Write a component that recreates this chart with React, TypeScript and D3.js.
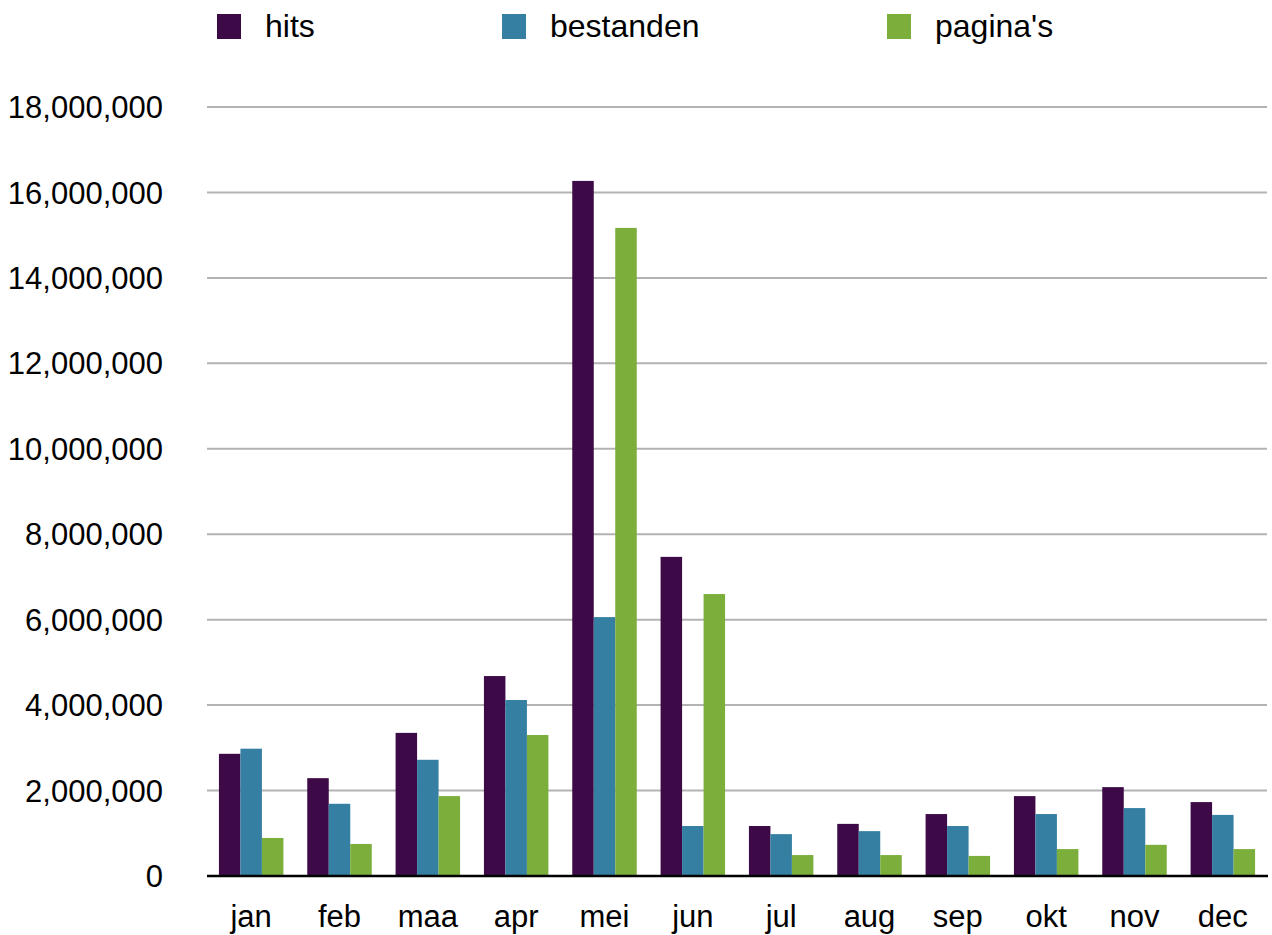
import React, { useRef, useEffect } from "react"
import * as d3 from "d3"

const months = ["jan", "feb", "maa", "apr", "mei", "jun", "jul", "aug", "sep", "okt", "nov", "dec"]
const seriesNames = ["hits", "bestanden", "pagina's"]
const colors = ["#3d0a47", "#357fa3", "#7bae3b"]

const hits = [2860000, 2290000, 3350000, 4680000, 16270000, 7470000, 1170000, 1220000, 1450000, 1870000, 2080000, 1730000]
const bestanden = [2980000, 1690000, 2720000, 4120000, 6060000, 1170000, 980000, 1050000, 1170000, 1450000, 1590000, 1430000]
const paginas = [890000, 750000, 1870000, 3300000, 15170000, 6600000, 490000, 490000, 470000, 630000, 730000, 630000]

const yTicks = [0, 2000000, 4000000, 6000000, 8000000, 10000000, 12000000, 14000000, 16000000, 18000000]

const App = () => {
    let element = useRef<SVGSVGElement>(null)

    useEffect(() => {
        const font = "'Liberation Sans', Arial, Helvetica, sans-serif"
        const series = [hits, bestanden, paginas]

        let svg = d3.select(element.current)
        svg.selectAll("*").remove()

        let x = d3.scaleBand()
            .domain(months)
            .range([207, 1267])
            .paddingInner(0.27)
            .paddingOuter(0.135)

        let xSub = d3.scaleBand()
            .domain(seriesNames)
            .range([0, x.bandwidth()])

        let y = d3.scaleLinear()
            .domain([0, 18000000])
            .range([876, 107])

        // gridlines
        svg.append("g")
            .selectAll("line")
            .data(yTicks.slice(1))
            .enter()
            .append("line")
                .attr("x1", 207)
                .attr("x2", 1267)
                .attr("y1", d => y(d))
                .attr("y2", d => y(d))
                .attr("stroke", "#b3b3b3")
                .attr("stroke-width", 2)

        // y labels
        svg.append("g")
            .selectAll("text")
            .data(yTicks)
            .enter()
            .append("text")
                .attr("x", 163)
                .attr("y", d => y(d))
                .attr("dy", "0.36em")
                .attr("text-anchor", "end")
                .style("font-family", font)
                .style("font-size", "31px")
                .attr("fill", "#000")
                .text(d => d3.format(",")(d))

        // bars
        series.forEach((vals, si) => {
            svg.append("g")
                .selectAll("rect")
                .data(vals)
                .enter()
                .append("rect")
                    .attr("x", (d, i) => x(months[i])! + xSub(seriesNames[si])!)
                    .attr("y", d => y(d))
                    .attr("width", xSub.bandwidth())
                    .attr("height", d => y(0) - y(d))
                    .attr("fill", colors[si])
        })

        // x axis line
        svg.append("line")
            .attr("x1", 207)
            .attr("x2", 1268)
            .attr("y1", y(0))
            .attr("y2", y(0))
            .attr("stroke", "#000")
            .attr("stroke-width", 2.5)

        // month labels
        svg.append("g")
            .selectAll("text")
            .data(months)
            .enter()
            .append("text")
                .attr("x", d => x(d)! + x.bandwidth() / 2)
                .attr("y", 927)
                .attr("text-anchor", "middle")
                .style("font-family", font)
                .style("font-size", "31px")
                .attr("fill", "#000")
                .text(d => d)

        // legend
        const legendX = [217, 502, 887]
        let legend = svg.append("g")
            .selectAll("g")
            .data(seriesNames)
            .enter()
            .append("g")
                .attr("transform", (d, i) => "translate(" + legendX[i] + ",0)")
        legend.append("rect")
            .attr("x", 0)
            .attr("y", 14)
            .attr("width", 24)
            .attr("height", 25)
            .attr("fill", (d, i) => colors[i])
        legend.append("text")
            .attr("x", 48)
            .attr("y", 37)
            .style("font-family", font)
            .style("font-size", "32px")
            .attr("fill", "#000")
            .text(d => d)
    }, [])

    return (
        <svg ref={element} width={1272} height={935}
            style={{ position: "absolute", left: 0, top: 0, background: "#fff" }} />
    )
}

export default App
